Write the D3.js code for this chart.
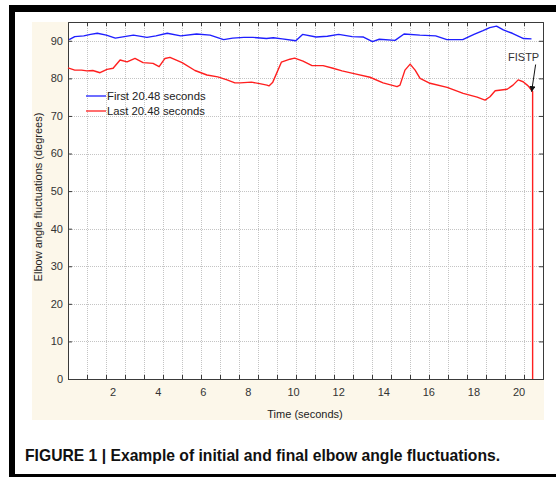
<!DOCTYPE html>
<html>
<head>
<meta charset="utf-8">
<script src="https://cdn.jsdelivr.net/npm/d3@7"></script>
<style>
  body { margin: 0; background: #fff; }
  svg text { font-family: "Liberation Sans", Arial, sans-serif; }
</style>
</head>
<body>
<div id="chart"></div>
<script>
// first 20.48 s (blue)
var blueT = [0.05,0.3,0.7,1.0,1.3,1.7,2.1,2.5,2.9,3.5,3.9,4.4,5.0,5.7,6.3,6.9,7.3,7.8,8.2,8.8,9.1,9.5,10.1,10.4,11.0,11.5,12.0,12.6,13.1,13.5,13.8,14.5,14.9,15.6,16.3,16.8,17.5,18.0,18.4,18.7,19.0,19.3,19.7,20.2,20.55];
var blueV = [90.3,91.1,91.3,91.7,92.0,91.5,90.7,91.1,91.5,90.9,91.3,92.0,91.3,91.8,91.5,90.3,90.7,90.9,90.9,90.6,90.8,90.5,90.0,91.7,91.0,91.2,91.7,91.1,91.0,89.8,90.4,90.1,91.8,91.5,91.3,90.3,90.3,91.7,92.7,93.5,93.9,92.9,92.0,90.6,90.5];

// last 20.48 s (red), ends with the drop at FISTP
var redT = [0,0.3,0.6,0.84,1.1,1.42,1.73,2.0,2.31,2.62,2.97,3.33,3.77,4.04,4.3,4.52,5.06,5.63,6.16,6.64,7.05,7.4,7.63,8.13,8.5,8.82,8.91,9.08,9.46,9.84,10.05,10.42,10.82,11.31,11.75,12.15,12.73,13.39,13.97,14.59,14.72,14.94,15.17,15.39,15.61,16.05,16.81,17.52,18.14,18.49,18.71,18.94,19.47,19.73,19.96,20.18,20.4,20.6,20.6];
var redV = [82.8,82.2,82.2,82.0,82.1,81.5,82.4,82.7,84.9,84.4,85.3,84.2,84.0,83.1,85.3,85.6,84.2,82.1,80.9,80.4,79.6,78.8,78.8,79.0,78.6,78.2,78.0,79.0,84.3,85.1,85.4,84.6,83.4,83.4,82.7,82.0,81.2,80.3,78.8,77.8,78.2,82.2,83.8,82.2,80.0,78.7,77.6,76.0,75.0,74.2,75.1,76.7,77.1,78.2,79.6,79.1,78.0,76.5,0];

var xLabels = [2,4,6,8,10,12,14,16,18,20];
var yLabels = [0,10,20,30,40,50,60,70,80,90];
var seriesNames = ["First 20.48 seconds", "Last 20.48 seconds"];
var seriesColors = ["#1f1fff", "#ff1f1f"];

var W = 556, H = 477;
var margin = {left: 68, top: 22, right: 13, bottom: 98};

var svg = d3.select("#chart").append("svg")
    .attr("width", W)
    .attr("height", H);

var x = d3.scaleLinear().domain([0, 21.06]).range([margin.left, W - margin.right]);
var y = d3.scaleLinear().domain([0, 95]).range([H - margin.bottom, margin.top]);

// black frame around figure
svg.append("rect").attr("x", 10).attr("y", 5).attr("width", W - 10).attr("height", 7).attr("fill", "#000");
svg.append("rect").attr("x", 9).attr("y", 5).attr("width", 6).attr("height", H - 5).attr("fill", "#000");
svg.append("rect").attr("x", 9).attr("y", 474).attr("width", W - 9).attr("height", 3).attr("fill", "#000");

// beige panel + white plot area
svg.append("rect")
    .attr("x", 32).attr("y", margin.top)
    .attr("width", x.range()[1] + 1 - 32)
    .attr("height", 420 - margin.top)
    .attr("fill", "#fcf7ea");
svg.append("rect")
    .attr("x", x.range()[0]).attr("y", y.range()[1])
    .attr("width", x.range()[1] - x.range()[0])
    .attr("height", y.range()[0] - y.range()[1])
    .attr("fill", "#fff");

// grid: 25 vertical divisions, horizontal every 10
var xGrid = d3.range(1, 25).map(function(i) { return i * 21.06 / 25; });

svg.append("g").selectAll("line")
    .data(xGrid)
    .enter().append("line")
    .attr("x1", function(d) { return Math.round(x(d)) + 0.5; })
    .attr("x2", function(d) { return Math.round(x(d)) + 0.5; })
    .attr("y1", y.range()[1]).attr("y2", y.range()[0])
    .attr("stroke", "#c4c4c4")
    .attr("stroke-dasharray", "1,1");

svg.append("g").selectAll("line")
    .data(yLabels.slice(1))
    .enter().append("line")
    .attr("x1", x.range()[0]).attr("x2", x.range()[1])
    .attr("y1", function(d) { return Math.round(y(d)) + 0.5; })
    .attr("y2", function(d) { return Math.round(y(d)) + 0.5; })
    .attr("stroke", "#c4c4c4")
    .attr("stroke-dasharray", "1,1");

// axes: frame with inward ticks
var axisColor = "#3a3a3a";
svg.append("g")
    .attr("transform", "translate(0," + y.range()[0] + ")")
    .call(d3.axisBottom(x).tickValues(xGrid).tickSize(-4).tickFormat(""))
    .call(function(g) { g.selectAll("line,path").attr("stroke", axisColor); });
svg.append("g")
    .attr("transform", "translate(0," + y.range()[1] + ")")
    .call(d3.axisTop(x).tickValues(xGrid).tickSize(-4).tickFormat(""))
    .call(function(g) { g.selectAll("line,path").attr("stroke", axisColor); });
svg.append("g")
    .attr("transform", "translate(" + x.range()[0] + ",0)")
    .call(d3.axisLeft(y).tickValues(yLabels).tickSize(-4).tickFormat(""))
    .call(function(g) { g.selectAll("line,path").attr("stroke", axisColor); });
svg.append("g")
    .attr("transform", "translate(" + x.range()[1] + ",0)")
    .call(d3.axisRight(y).tickValues(yLabels).tickSize(-4).tickFormat(""))
    .call(function(g) { g.selectAll("line,path").attr("stroke", axisColor); });

// tick labels
svg.append("g").selectAll("text")
    .data(xLabels)
    .enter().append("text")
    .attr("x", function(d) { return x(d); })
    .attr("y", 396)
    .attr("text-anchor", "middle")
    .attr("font-size", 11)
    .attr("fill", "#333")
    .text(function(d) { return d; });

svg.append("g").selectAll("text")
    .data(yLabels)
    .enter().append("text")
    .attr("x", 63)
    .attr("y", function(d) { return y(d); })
    .attr("dy", "0.35em")
    .attr("text-anchor", "end")
    .attr("font-size", 11)
    .attr("fill", "#333")
    .text(function(d) { return d; });

// axis titles
svg.append("text")
    .attr("x", 305).attr("y", 418)
    .attr("text-anchor", "middle")
    .attr("font-size", 11)
    .attr("fill", "#222")
    .text("Time (seconds)");

svg.append("text")
    .attr("transform", "translate(42,197) rotate(-90)")
    .attr("text-anchor", "middle")
    .attr("font-size", 11)
    .attr("fill", "#222")
    .text("Elbow angle fluctuations (degrees)");

// series lines
var line = d3.line()
    .x(function(d) { return x(d[0]); })
    .y(function(d) { return y(d[1]); });

var series = [d3.zip(blueT, blueV), d3.zip(redT, redV)];

svg.append("g").selectAll("path")
    .data(series)
    .enter().append("path")
    .attr("d", line)
    .attr("fill", "none")
    .attr("stroke", function(d, i) { return seriesColors[i]; })
    .attr("stroke-width", 1.4)
    .attr("stroke-linejoin", "round");

// legend
var legend = svg.append("g").selectAll("g")
    .data(seriesNames)
    .enter().append("g")
    .attr("transform", function(d, i) { return "translate(86," + (96 + i * 15) + ")"; });
legend.append("line")
    .attr("x1", 0).attr("x2", 20)
    .attr("stroke", function(d, i) { return seriesColors[i]; })
    .attr("stroke-width", 1.3);
legend.append("text")
    .attr("x", 21).attr("dy", "0.35em")
    .attr("font-size", 11.3)
    .attr("fill", "#222")
    .text(function(d) { return d; });

// FISTP annotation
var tipT = redT[redT.length - 2], tipV = redV[redV.length - 2];
svg.append("defs").append("marker")
    .attr("id", "arrow")
    .attr("viewBox", "0 0 10 10")
    .attr("refX", 9).attr("refY", 5)
    .attr("markerWidth", 6).attr("markerHeight", 6)
    .attr("orient", "auto")
  .append("path")
    .attr("d", "M0,0L10,5L0,10z")
    .attr("fill", "#111");
svg.append("line")
    .attr("x1", x(tipT) + 3).attr("y1", y(tipV) - 27)
    .attr("x2", x(tipT) - 1).attr("y2", y(tipV))
    .attr("stroke", "#111")
    .attr("stroke-width", 1)
    .attr("marker-end", "url(#arrow)");
svg.append("text")
    .attr("x", x(tipT) - 9).attr("y", 61)
    .attr("text-anchor", "middle")
    .attr("font-size", 11)
    .attr("fill", "#333")
    .text("FISTP");

// caption
svg.append("text")
    .attr("x", 25).attr("y", 461)
    .attr("font-size", 15.7)
    .attr("font-weight", "bold")
    .attr("fill", "#111")
    .text("FIGURE 1 | Example of initial and final elbow angle fluctuations.");
</script>
</body>
</html>
